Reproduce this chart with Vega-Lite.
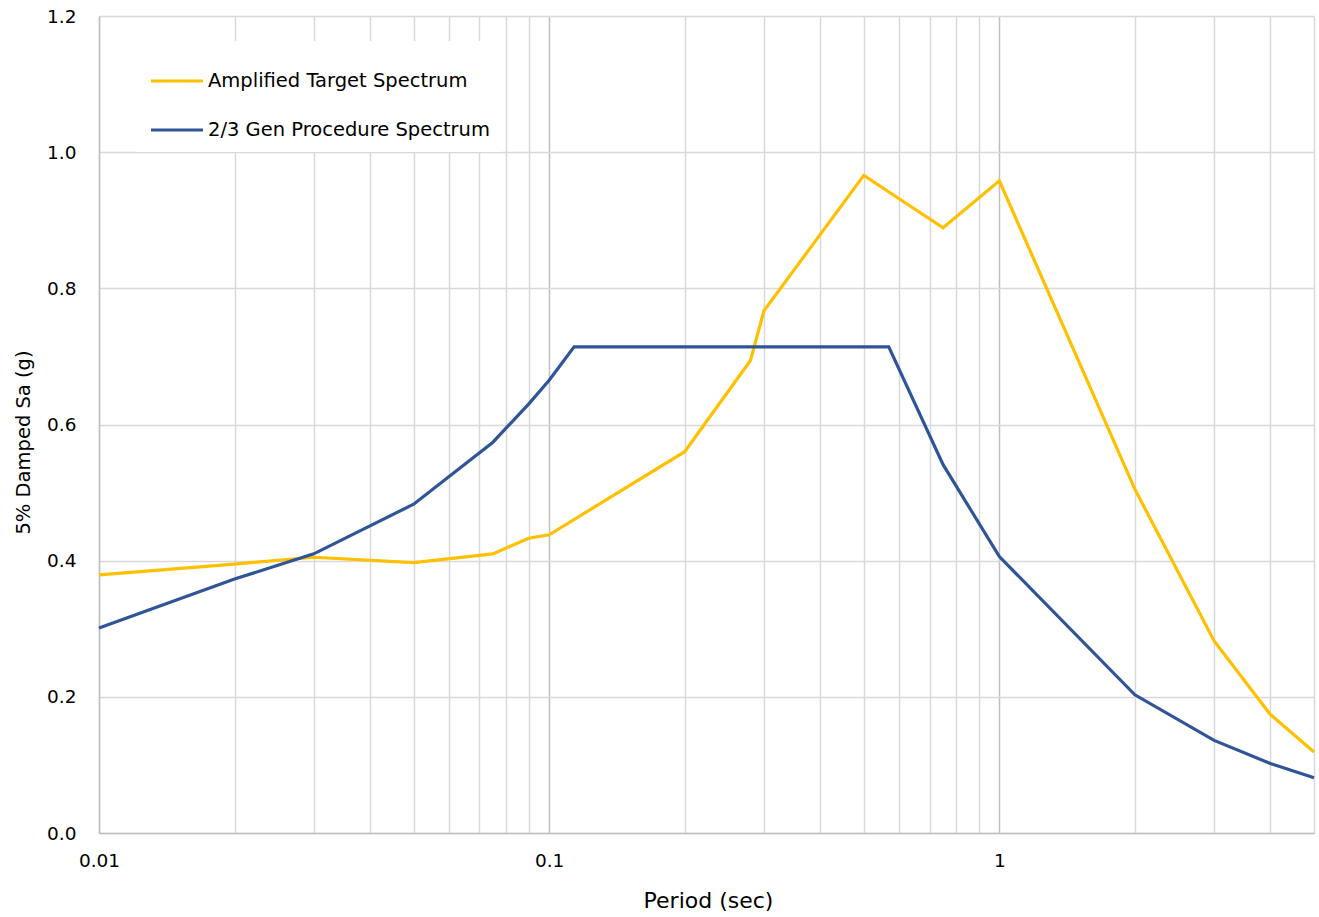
{
  "$schema": "https://vega.github.io/schema/vega-lite/v6.json",
  "width": 1215,
  "height": 817,
  "autosize": "none",
  "padding": {"left": 99, "top": 16, "right": 5, "bottom": 84},
  "background": "white",
  "config": {
    "view": {"stroke": null},
    "font": "DejaVu Sans"
  },
  "data": {
    "values": [
      {"period": 0.01, "sa": 0.379, "series": "Amplified Target Spectrum"},
      {"period": 0.02, "sa": 0.395, "series": "Amplified Target Spectrum"},
      {"period": 0.03, "sa": 0.405, "series": "Amplified Target Spectrum"},
      {"period": 0.05, "sa": 0.397, "series": "Amplified Target Spectrum"},
      {"period": 0.075, "sa": 0.41, "series": "Amplified Target Spectrum"},
      {"period": 0.09, "sa": 0.433, "series": "Amplified Target Spectrum"},
      {"period": 0.1, "sa": 0.438, "series": "Amplified Target Spectrum"},
      {"period": 0.2, "sa": 0.56, "series": "Amplified Target Spectrum"},
      {"period": 0.28, "sa": 0.694, "series": "Amplified Target Spectrum"},
      {"period": 0.3, "sa": 0.767, "series": "Amplified Target Spectrum"},
      {"period": 0.5, "sa": 0.966, "series": "Amplified Target Spectrum"},
      {"period": 0.75, "sa": 0.889, "series": "Amplified Target Spectrum"},
      {"period": 1.0, "sa": 0.958, "series": "Amplified Target Spectrum"},
      {"period": 2.0, "sa": 0.505, "series": "Amplified Target Spectrum"},
      {"period": 3.0, "sa": 0.282, "series": "Amplified Target Spectrum"},
      {"period": 4.0, "sa": 0.174, "series": "Amplified Target Spectrum"},
      {"period": 5.0, "sa": 0.119, "series": "Amplified Target Spectrum"},
      {"period": 0.01, "sa": 0.301, "series": "2/3 Gen Procedure Spectrum"},
      {"period": 0.02, "sa": 0.373, "series": "2/3 Gen Procedure Spectrum"},
      {"period": 0.03, "sa": 0.41, "series": "2/3 Gen Procedure Spectrum"},
      {"period": 0.05, "sa": 0.483, "series": "2/3 Gen Procedure Spectrum"},
      {"period": 0.075, "sa": 0.574, "series": "2/3 Gen Procedure Spectrum"},
      {"period": 0.09, "sa": 0.63, "series": "2/3 Gen Procedure Spectrum"},
      {"period": 0.1, "sa": 0.665, "series": "2/3 Gen Procedure Spectrum"},
      {"period": 0.1136, "sa": 0.714, "series": "2/3 Gen Procedure Spectrum"},
      {"period": 0.568, "sa": 0.714, "series": "2/3 Gen Procedure Spectrum"},
      {"period": 0.75, "sa": 0.541, "series": "2/3 Gen Procedure Spectrum"},
      {"period": 1.0, "sa": 0.406, "series": "2/3 Gen Procedure Spectrum"},
      {"period": 2.0, "sa": 0.203, "series": "2/3 Gen Procedure Spectrum"},
      {"period": 3.0, "sa": 0.136, "series": "2/3 Gen Procedure Spectrum"},
      {"period": 4.0, "sa": 0.102, "series": "2/3 Gen Procedure Spectrum"},
      {"period": 5.0, "sa": 0.081, "series": "2/3 Gen Procedure Spectrum"}
    ]
  },
  "mark": {"type": "line", "strokeWidth": 3.2, "strokeJoin": "miter"},
  "encoding": {
    "x": {
      "field": "period",
      "type": "quantitative",
      "scale": {"type": "log", "domain": [0.01, 5], "nice": false},
      "axis": {
        "title": "Period (sec)",
        "values": [0.01, 0.02, 0.03, 0.04, 0.05, 0.06, 0.07, 0.08, 0.09, 0.1, 0.2, 0.3, 0.4, 0.5, 0.6, 0.7, 0.8, 0.9, 1, 2, 3, 4, 5],
        "labelExpr": "datum.value == 0.01 ? '0.01' : datum.value == 0.1 ? '0.1' : datum.value == 1 ? '1' : ''",
        "labelFont": "DejaVu Sans",
        "labelFontSize": 18.5,
        "labelColor": "#000000",
        "labelPadding": 18,
        "labelOverlap": false,
        "labelFlush": false,
        "ticks": false,
        "domainColor": "#bfbfbf",
        "domainWidth": 1.5,
        "grid": true,
        "gridColor": {"condition": {"test": "datum.value == 0.1 || datum.value == 1", "value": "#bfbfbf"}, "value": "#d9d9d9"},
        "gridWidth": 1.5,
        "titleFont": "DejaVu Sans",
        "titleFontSize": 22,
        "titleFontWeight": "normal",
        "titleColor": "#000000",
        "titlePadding": 21,
        "titleX": 609
      }
    },
    "y": {
      "field": "sa",
      "type": "quantitative",
      "scale": {"domain": [0, 1.2], "nice": false},
      "axis": {
        "title": "5% Damped Sa (g)",
        "values": [0, 0.2, 0.4, 0.6, 0.8, 1.0, 1.2],
        "format": ".1f",
        "labelFont": "DejaVu Sans",
        "labelFontSize": 18.5,
        "labelColor": "#000000",
        "labelPadding": 23,
        "ticks": false,
        "domainColor": "#bfbfbf",
        "domainWidth": 1.5,
        "grid": true,
        "gridColor": "#d9d9d9",
        "gridWidth": 1.5,
        "titleFont": "DejaVu Sans",
        "titleFontSize": 19.5,
        "titleFontWeight": "normal",
        "titleColor": "#000000",
        "titlePadding": 13,
        "titleY": 426
      }
    },
    "color": {
      "field": "series",
      "type": "nominal",
      "sort": ["Amplified Target Spectrum", "2/3 Gen Procedure Spectrum"],
      "scale": {
        "domain": ["Amplified Target Spectrum", "2/3 Gen Procedure Spectrum"],
        "range": ["#FFC000", "#2F5597"]
      },
      "legend": {
        "title": null,
        "orient": "none",
        "legendX": 38,
        "legendY": 25,
        "fillColor": "white",
        "padding": 12,
        "symbolType": "stroke",
        "symbolSize": 2704,
        "symbolStrokeWidth": 3.2,
        "labelFont": "DejaVu Sans",
        "labelFontSize": 19.5,
        "labelColor": "#000000",
        "labelOffset": 3,
        "labelLimit": 400,
        "rowPadding": 11
      }
    }
  }
}
